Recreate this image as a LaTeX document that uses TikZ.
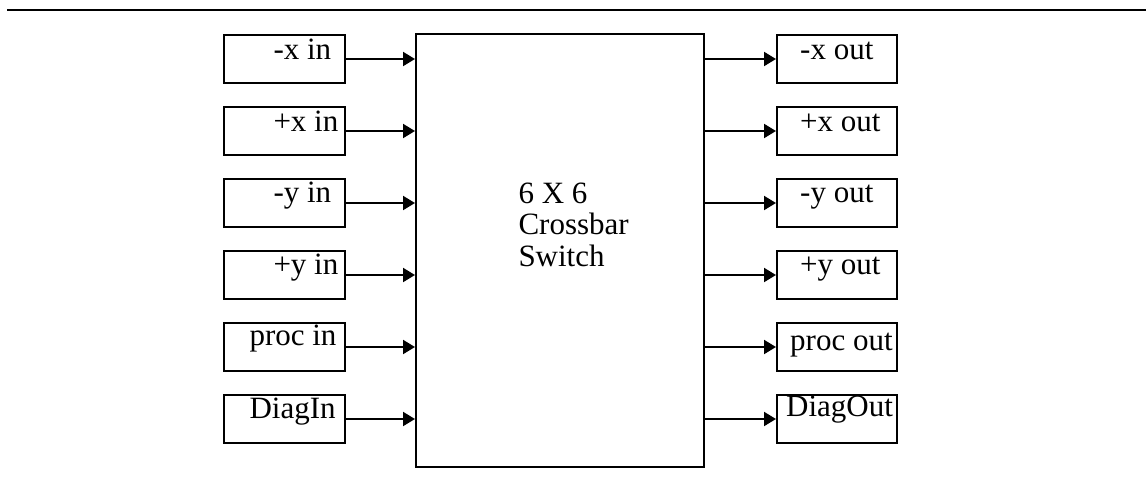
\documentclass[tikz,border=0pt]{standalone}
\usepackage{fontspec}
\setmainfont{Liberation Serif}
\usetikzlibrary{arrows.meta,calc}

\begin{document}
\begin{tikzpicture}[x=1pt,y=-1pt,
    box/.style={draw,line width=2pt,minimum width=121pt,minimum height=48pt,anchor=north west,inner sep=0pt},
    txt/.style={anchor=base west,inner sep=0pt,font=\fontsize{31}{31.7}\selectfont},
    feed/.style={line width=2pt,-{Triangle[length=12pt,width=14pt]}}]
    \useasboundingbox (0,0) rectangle (1146,482);
    \draw[line width=2.6pt] (7,10) -- (1146,10);
    % the switch
    \node[box,minimum width=288pt,minimum height=432.5pt] (xbar) at (415,33.3) {};
    \node[txt,anchor=north west,align=left] (xbartxt) at (518.3,182.3) {6 X 6\\Crossbar\\Switch};
    % input ports
    \foreach \nm/\lbl/\dx/\dy [count=\i from 0] in {xm/{-x in}/50/25, xp/{+x in}/50/25, ym/{-y in}/50/24.4, yp/{+y in}/50/24, pr/{proc in}/26/23.5, dg/{DiagIn}/26/24} {
        \node[box] (in\nm) at (223.3,34+72*\i) {};
        \node[txt] (in\nm txt) at ($(in\nm.north west)+(\dx,\dy)$) {\lbl};
        \draw[feed] (in\nm.east) -- (in\nm.east -| xbar.west);
    }
    % output ports
    \foreach \nm/\lbl/\dx/\dy [count=\i from 0] in {xm/{-x out}/24/25, xp/{+x out}/24/25, ym/{-y out}/24/24.4, yp/{+y out}/24/24, pr/{proc out}/14/28.3, dg/{DiagOut}/10/22} {
        \node[box,minimum width=120pt] (out\nm) at (776,34+72*\i) {};
        \node[txt] (out\nm txt) at ($(out\nm.north west)+(\dx,\dy)$) {\lbl};
        \draw[feed] (out\nm.west -| xbar.east) -- (out\nm.west);
    }
\end{tikzpicture}
\end{document}
